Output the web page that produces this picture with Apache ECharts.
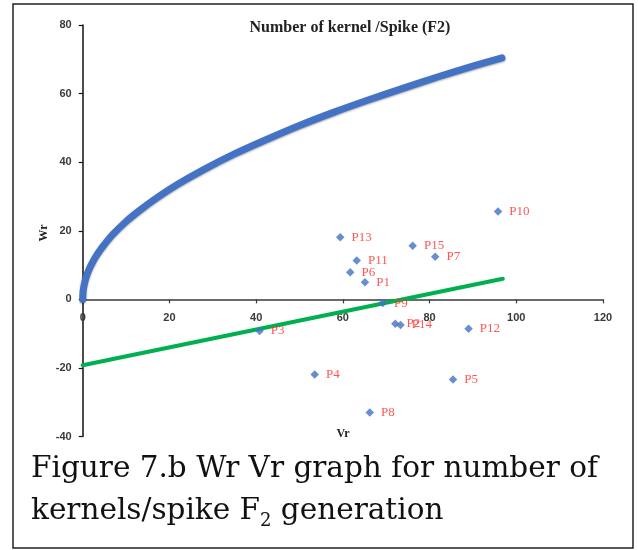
<!DOCTYPE html>
<html>
<head>
<meta charset="utf-8">
<script src="https://cdn.jsdelivr.net/npm/echarts@6/dist/echarts.min.js"></script>
<style>
html,body{margin:0;padding:0;background:#fff;}
#c{width:638px;height:550px;}
</style>
</head>
<body>
<div id="c"></div>
<script>
// ---- data ----
const chartTitle = 'Number of kernel /Spike (F2)';
const xTicks = [0, 20, 40, 60, 80, 100, 120];
const yTicks = [-40, -20, 0, 20, 40, 60, 80];

const parentNames = ['P1','P2','P3','P4','P5','P6','P7','P8','P9','P10','P11','P12','P13','P14','P15'];
const parentVr = [65.1, 72.1, 40.8, 53.5, 85.4, 61.7, 81.3, 66.2, 69.2, 95.8, 63.2, 89.0, 59.4, 73.3, 76.1];
const parentWr = [5.0, -7.1, -9.2, -21.9, -23.4, 7.9, 12.4, -33.0, -1.1, 25.6, 11.3, -8.6, 18.1, -7.5, 15.6];

// limiting parabola (blue curve)
const parabolaVr = [0, 0.1, 0.3, 0.6, 1, 1.5, 2, 3, 4, 5, 7, 10, 13, 17, 22, 28, 35, 42, 50, 58, 66, 74, 82, 90, 96.7];
const parabolaWr = [0, 2.3, 3.9, 5.6, 7.2, 8.8, 10.1, 12.4, 14.3, 16.0, 19.0, 22.7, 25.8, 29.5, 33.6, 37.9, 42.4, 46.4, 50.7, 54.6, 58.2, 61.6, 64.9, 68.0, 70.4];

// regression line (green)
const regressionVr = [0, 96.9];
const regressionWr = [-19.2, 6.0];

const captionLine1 = 'Figure 7.b Wr Vr graph for number of';
const captionLine2a = 'kernels/spike F';
const captionSub = '2';
const captionLine2b = ' generation';

// ---- chart ----
const chart = echarts.init(document.getElementById('c'), null, {renderer: 'canvas'});

const zip = (a, b) => a.map((v, i) => [v, b[i]]);
const tickFont = {fontFamily: 'Liberation Sans', fontWeight: 'bold', fontSize: 11, color: '#3a3a3a'};

const gridTop = 25, gridBottom = 113.5, chartH = 550;
const yMin = yTicks[0], yMax = yTicks[yTicks.length - 1];
// shift the x axis up so that it sits on Wr = 0 (labels follow it)
const plotH = chartH - gridTop - gridBottom;
const xAxisOffset = -plotH * (0 - yMin) / (yMax - yMin);

const option = {
  backgroundColor: '#fff',
  animation: false,
  grid: {left: 82.7, right: 35, top: gridTop, bottom: gridBottom, containLabel: false},
  xAxis: {
    type: 'value',
    min: xTicks[0], max: xTicks[xTicks.length - 1], interval: 20,
    offset: xAxisOffset,
    axisLine: {onZero: false, lineStyle: {color: '#3a3a3a', width: 1.5}},
    axisTick: {show: true, inside: false, length: 4, lineStyle: {color: '#3a3a3a', width: 1.2}},
    axisLabel: Object.assign({margin: 13}, tickFont),
    splitLine: {show: false}
  },
  yAxis: {
    type: 'value',
    min: yMin, max: yMax, interval: 20,
    axisLine: {show: true, onZero: false, lineStyle: {color: '#111', width: 1.5}},
    axisTick: {show: true, inside: false, length: 4, lineStyle: {color: '#111', width: 1.2}},
    axisLabel: Object.assign({margin: 11}, tickFont),
    splitLine: {show: false}
  },
  series: [
    {
      type: 'line',
      data: zip(parabolaVr, parabolaWr),
      smooth: 0.3,
      showSymbol: false,
      symbol: 'none',
      lineStyle: {color: '#4472C4', width: 7, cap: 'round', join: 'round',
        shadowColor: 'rgba(0,0,0,0.35)', shadowBlur: 2, shadowOffsetY: 1},
      z: 2
    },
    {
      type: 'line',
      data: zip(regressionVr, regressionWr),
      showSymbol: false,
      symbol: 'none',
      lineStyle: {color: '#00B050', width: 4, cap: 'round'},
      z: 3
    },
    {
      type: 'scatter',
      data: parentNames.map((n, i) => ({name: n, value: [parentVr[i], parentWr[i]]})),
      symbol: 'diamond',
      symbolSize: 8.5,
      itemStyle: {color: '#4472C4'},
      label: {
        show: true, position: 'right', distance: 7,
        formatter: p => p.name,
        color: '#FF2A2A', fontFamily: 'Liberation Serif', fontSize: 13
      },
      z: 4
    }
  ],
  graphic: [
    {type: 'rect', shape: {x: 13, y: 4, width: 620, height: 544},
     style: {fill: 'none', stroke: '#222', lineWidth: 1.5}, silent: true, z: 0},
    {type: 'text', x: 350, y: 28,
     style: {text: chartTitle, fontFamily: 'Liberation Serif', fontWeight: 'bold', fontSize: 16,
       fill: '#222', align: 'center', verticalAlign: 'middle'}},
    {type: 'text', x: 44, y: 233, rotation: Math.PI / 2,
     style: {text: 'Wr', fontFamily: 'Liberation Serif', fontWeight: 'bold', fontSize: 12,
       fill: '#222', align: 'center', verticalAlign: 'middle'}},
    {type: 'text', x: 343, y: 434,
     style: {text: 'Vr', fontFamily: 'Liberation Serif', fontWeight: 'bold', fontSize: 12,
       fill: '#222', align: 'center', verticalAlign: 'middle'}},
    {type: 'text', x: 31, y: 469,
     style: {text: captionLine1, fontFamily: 'DejaVu Serif', fontSize: 29.5,
       fill: '#111', align: 'left', verticalAlign: 'middle'}},
    {type: 'text', x: 31, y: 511,
     style: {
       text: '{a|' + captionLine2a + '}{s|' + captionSub + '}{a|' + captionLine2b + '}',
       align: 'left', verticalAlign: 'middle',
       rich: {
         a: {fontFamily: 'DejaVu Serif', fontSize: 29.5, fill: '#111', color: '#111', height: 36, lineHeight: 36, verticalAlign: 'middle'},
         s: {fontFamily: 'DejaVu Serif', fontSize: 18, fill: '#111', color: '#111', height: 16, lineHeight: 16, verticalAlign: 'bottom'}
       }
     }}
  ]
};
chart.setOption(option);
</script>
</body>
</html>
